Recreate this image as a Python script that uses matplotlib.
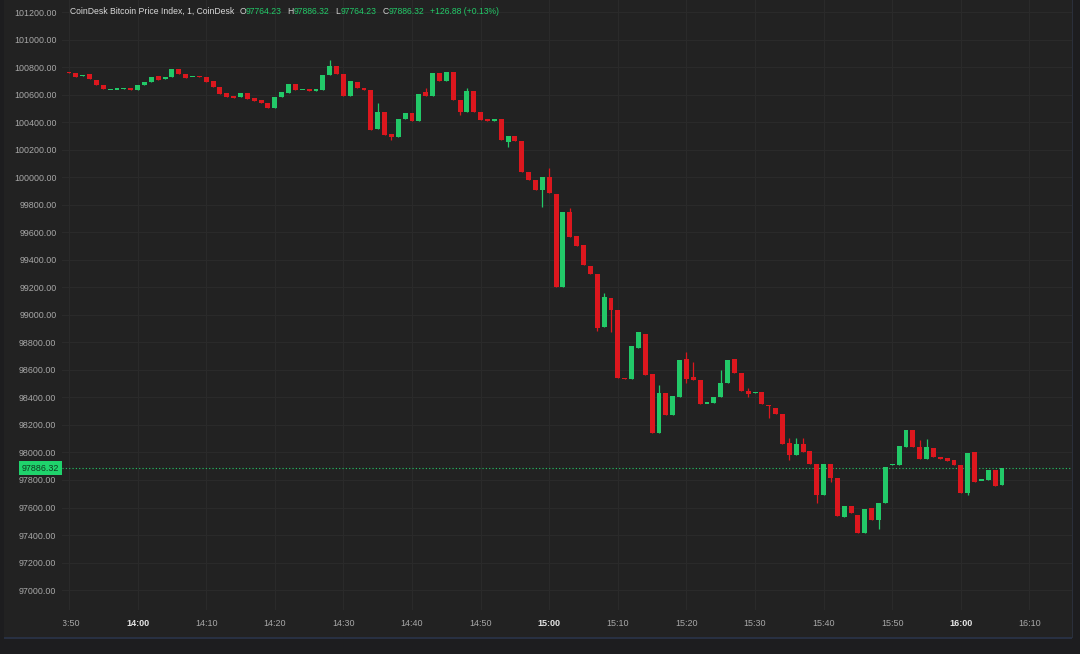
import numpy as np
import matplotlib
matplotlib.use("Agg")
import matplotlib.pyplot as plt
from matplotlib.patches import Rectangle
from matplotlib.transforms import blended_transform_factory, Bbox

# ---------------- data ----------------
title = "CoinDesk Bitcoin Price Index, 1, CoinDesk"
start_label = "13:50"   # time of the first 1-minute bar

opens = [
    100762, 100757, 100737, 100746, 100706, 100670, 100637, 100639, 100644, 100650,
    100633, 100670, 100688, 100735, 100711, 100730, 100784, 100750, 100729, 100733,
    100730, 100699, 100655, 100609, 100590, 100580, 100608, 100572, 100561, 100540,
    100500, 100585, 100615, 100677, 100637, 100638, 100628, 100633, 100742, 100808,
    100747, 100592, 100689, 100650, 100633, 100350, 100471, 100312, 100294, 100423,
    100464, 100408, 100617, 100592, 100755, 100699, 100762, 100561, 100471, 100626,
    100471, 100420, 100410, 100423, 100252, 100299, 100265, 100040, 99980, 99907,
    99999, 99878, 99204, 99749, 99573, 99507, 99357, 99297, 98914, 99120,
    99035, 98541, 98532, 98761, 98861, 98570, 98144, 98430, 98272, 98401,
    98679, 98546, 98527, 98359, 98357, 98401, 98503, 98679, 98580, 98447,
    98433, 98439, 98345, 98325, 98280, 98067, 97982, 98062, 98011, 97914,
    97691, 97914, 97817, 97533, 97611, 97546, 97413, 97594, 97509, 97635,
    97912, 97909, 98042, 98163, 98042, 97953, 98030, 97965, 97958, 97945,
    97909, 97708, 98006, 97799, 97800, 97873, 97764.23,
]
closes = [
    100758, 100728, 100740, 100711, 100670, 100638, 100640, 100642, 100647, 100633,
    100670, 100694, 100731, 100706, 100730, 100784, 100750, 100721, 100731, 100727,
    100694, 100657, 100604, 100585, 100577, 100608, 100566, 100557, 100537, 100500,
    100585, 100621, 100677, 100633, 100640, 100628, 100638, 100742, 100808, 100747,
    100592, 100699, 100646, 100631, 100343, 100476, 100306, 100294, 100423, 100464,
    100408, 100602, 100592, 100755, 100699, 100762, 100561, 100471, 100626, 100471,
    100415, 100410, 100420, 100270, 100299, 100265, 100040, 99980, 99907, 99999,
    99887, 99204, 99745, 99563, 99502, 99362, 99297, 98902, 99127, 99035,
    98539, 98537, 98774, 98877, 98563, 98144, 98430, 98272, 98410, 98672,
    98534, 98527, 98352, 98363, 98405, 98507, 98672, 98580, 98449, 98425,
    98436, 98349, 98336, 98278, 98062, 97982, 98062, 98006, 97914, 97691,
    97914, 97812, 97539, 97611, 97562, 97413, 97589, 97509, 97635, 97892,
    97915, 98047, 98163, 98038, 97953, 98042, 97965, 97955, 97940, 97909,
    97708, 97998, 97788, 97802, 97873, 97759.44, 97886.32,
]
# bars whose wick extends beyond the body (bar index -> price)
wick_highs = {38: 100851, 45: 100541, 52: 100646, 58: 100646, 70: 100065,
              73: 99774, 78: 99156, 86: 98490, 90: 98732, 91: 98660,
              95: 98599, 99: 98466, 105: 98103, 106: 98103, 107: 98103,
              124: 98091, 125: 98096}
wick_lows = {47: 100270, 57: 100452, 64: 100221, 69: 99786, 77: 98885,
             79: 98877, 90: 98503, 99: 98405, 102: 98250, 105: 97945,
             109: 97631, 111: 97788, 118: 97442, 131: 97691}

y_ticks = list(range(97000, 101201, 200))
x_tick_minutes = list(range(0, 141, 10))
x_tick_labels = ["13:50", "14:00", "14:10", "14:20", "14:30", "14:40", "14:50",
                 "15:00", "15:10", "15:20", "15:30", "15:40", "15:50", "16:00", "16:10"]
bold_labels = {"14:00", "15:00", "16:00"}

# ---------------- style ----------------
W, H = 1080, 654
GREEN = "#22c968"
RED = "#dc171e"
PANEL = "#222222"
GRID = "#2a2a2a"
TXT = "#a8a8a8"
FONT = "Liberation Sans"

fig = plt.figure(figsize=(W / 100, H / 100), dpi=100, facecolor="#1d1d1f")
# main panel (drawn beneath the axes)
fig.patches.append(Rectangle((4 / W, 1 - 638 / H), 1068 / W, 638 / H,
                             transform=fig.transFigure, fc=PANEL, ec="none", zorder=-5))
fig.patches.append(Rectangle((4 / W, 1 - 639 / H), 1068 / W, 2 / H,
                             transform=fig.transFigure, fc="#283042", ec="none", zorder=-5))
fig.patches.append(Rectangle((1072 / W, 1 - 638 / H), 1.2 / W, 638 / H,
                             transform=fig.transFigure, fc="#2a2f3b", ec="none", zorder=-5))

ax = fig.add_axes([62 / W, 1 - 610 / H, 1010 / W, 610 / H])
ax.patch.set_alpha(0)
for s in ax.spines.values():
    s.set_visible(False)

o = np.array(opens, dtype=float)
c = np.array(closes, dtype=float)
n = len(o)
x = np.arange(n)
body_hi = np.maximum(o, c)
body_lo = np.minimum(o, c)
hi = body_hi.copy()
lo = body_lo.copy()
for k, v in wick_highs.items():
    hi[k] = max(hi[k], v)
for k, v in wick_lows.items():
    lo[k] = min(lo[k], v)
cols = np.where(c >= o, GREEN, RED)

ax.vlines(x, lo, hi, colors=cols, lw=0.9, zorder=3)
heights = np.maximum(body_hi - body_lo, 11)
bottoms = (body_hi + body_lo) / 2 - heights / 2
ax.bar(x, heights, bottom=bottoms, width=0.72, color=cols, lw=0, zorder=4)

# axes ranges (pixel-calibrated)
ax.set_xlim(-1.02, 146.2)
ax.set_ylim(96855.5, 101287.2)

ax.set_yticks(y_ticks)
ax.set_yticklabels([f"{v:.2f}" for v in y_ticks])
ax.set_xticks(x_tick_minutes)
ax.set_xticklabels([])
ax.tick_params(axis="both", length=0)
ax.tick_params(axis="y", pad=4, labelsize=6.4, labelcolor=TXT)
for lab in ax.get_yticklabels():
    lab.set_fontfamily(FONT)
ax.grid(True, color=GRID, lw=0.8, zorder=0)
ax.set_axisbelow(True)

# x labels (drawn as text so that the first one is clipped like in the reference)
bt = blended_transform_factory(ax.transData, ax.transAxes)
for m, lab in zip(x_tick_minutes, x_tick_labels):
    bold = lab in bold_labels
    t = ax.text(m, -14 / 610, lab, transform=bt, ha="center", va="center",
                fontsize=6.5, family=FONT, color="#e6e6e6" if bold else TXT,
                fontweight="bold" if bold else "normal", clip_on=False)
    if m == x_tick_minutes[0]:
        t.set_clip_box(Bbox.from_extents(63, 0, W, H))
        t.set_clip_on(True)

# last price line and label
last = c[-1]
ax.axhline(last, color=GREEN, lw=0.8, ls=(0, (1, 2)), zorder=2)
bty = blended_transform_factory(ax.transAxes, ax.transData)
ax.text(-2.5 / 1010, last, f"{last:.2f}", transform=bty, ha="right", va="center",
        fontsize=6.4, family=FONT, color="#0e3a1f", clip_on=False, zorder=6,
        bbox=dict(boxstyle="square,pad=0.3", fc="#1fd36c", ec="none"))

# header legend (pieces chained left to right)
hy = 1 - 11 / H
change = c[-1] - c[-2]
pct = change / c[-2] * 100
pieces = [
    (title, "#d8d8d8", 5),
    ("O", "#d0d0d0", 0), (f"{o[-1]:.2f}", GREEN, 6),
    ("H", "#d0d0d0", 0), (f"{hi[-1]:.2f}", GREEN, 6),
    ("L", "#d0d0d0", 0), (f"{lo[-1]:.2f}", GREEN, 6),
    ("C", "#d0d0d0", 0), (f"{c[-1]:.2f}", GREEN, 6),
    (f"{change:+.2f} ({pct:+.2f}%)", GREEN, 0),
]
renderer = fig.canvas.get_renderer()
cur = 70.0
for s, col, gap in pieces:
    t = fig.text(cur / W, hy, s, ha="left", va="center", fontsize=6.2, family=FONT, color=col)
    ext = t.get_window_extent(renderer=renderer)
    cur = ext.x1 + gap

fig.savefig("out.png", dpi=100, facecolor=fig.get_facecolor())
